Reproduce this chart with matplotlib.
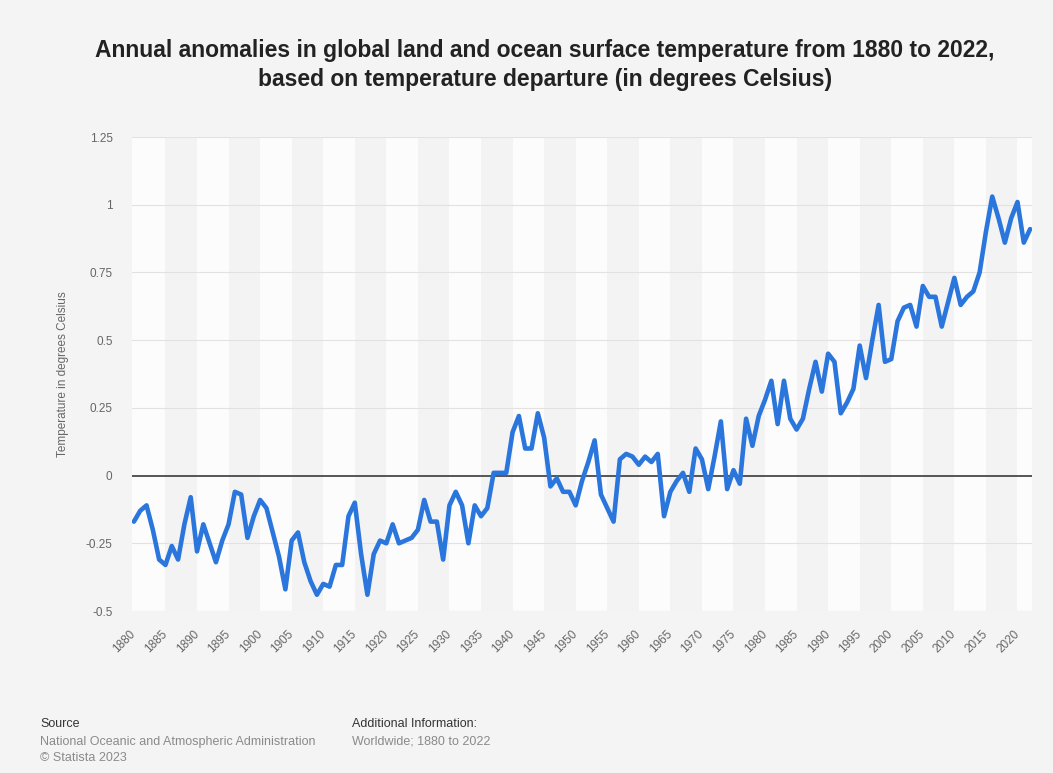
import matplotlib
matplotlib.use("Agg")
import matplotlib.pyplot as plt

years = list(range(1880, 2023))
anomalies = [
    -0.17, -0.13, -0.11, -0.20, -0.31, -0.33, -0.26, -0.31, -0.18, -0.08,   # 1880-1889
    -0.28, -0.18, -0.25, -0.32, -0.24, -0.18, -0.06, -0.07, -0.23, -0.15,   # 1890-1899
    -0.09, -0.12, -0.21, -0.30, -0.42, -0.24, -0.21, -0.32, -0.39, -0.44,   # 1900-1909
    -0.40, -0.41, -0.33, -0.33, -0.15, -0.10, -0.29, -0.44, -0.29, -0.24,   # 1910-1919
    -0.25, -0.18, -0.25, -0.24, -0.23, -0.20, -0.09, -0.17, -0.17, -0.31,   # 1920-1929
    -0.11, -0.06, -0.11, -0.25, -0.11, -0.15, -0.12, 0.01, 0.01, 0.01,      # 1930-1939
    0.16, 0.22, 0.10, 0.10, 0.23, 0.14, -0.04, -0.01, -0.06, -0.06,         # 1940-1949
    -0.11, -0.02, 0.05, 0.13, -0.07, -0.12, -0.17, 0.06, 0.08, 0.07,        # 1950-1959
    0.04, 0.07, 0.05, 0.08, -0.15, -0.06, -0.02, 0.01, -0.06, 0.10,         # 1960-1969
    0.06, -0.05, 0.07, 0.20, -0.05, 0.02, -0.03, 0.21, 0.11, 0.22,          # 1970-1979
    0.28, 0.35, 0.19, 0.35, 0.21, 0.17, 0.21, 0.32, 0.42, 0.31,             # 1980-1989
    0.45, 0.42, 0.23, 0.27, 0.32, 0.48, 0.36, 0.50, 0.63, 0.42,             # 1990-1999
    0.43, 0.57, 0.62, 0.63, 0.55, 0.70, 0.66, 0.66, 0.55, 0.64,             # 2000-2009
    0.73, 0.63, 0.66, 0.68, 0.75, 0.90, 1.03, 0.95, 0.86, 0.95,             # 2010-2019
    1.01, 0.86, 0.91,                                                       # 2020-2022
]
x_ticks = list(range(1880, 2021, 5))
y_ticks = [-0.5, -0.25, 0, 0.25, 0.5, 0.75, 1, 1.25]
y_tick_labels = ["-0.5", "-0.25", "0", "0.25", "0.5", "0.75", "1", "1.25"]

title = ("Annual anomalies in global land and ocean surface temperature from 1880 to 2022,\n"
         "based on temperature departure (in degrees Celsius)")
y_label = "Temperature in degrees Celsius"

plt.rcParams['font.family'] = ['Liberation Sans', 'DejaVu Sans']

W, H = 1053, 773
fig = plt.figure(figsize=(W / 100, H / 100), dpi=100, facecolor='#f4f4f4')
ax = fig.add_axes([132 / W, 1 - 611 / H, (1032 - 132) / W, (611 - 137) / H])
ax.set_facecolor('#fcfcfc')

# alternating bands
for start in range(1885, 2023, 10):
    ax.axvspan(start, start + 5, color='#f3f3f3', lw=0, zorder=0)

ax.set_xlim(1879.7, 2022.3)
ax.set_ylim(-0.5, 1.25)

for v in y_ticks:
    if v != 0:
        ax.axhline(v, color='#e2e2e2', lw=0.8, zorder=1)
ax.axhline(0, color='#555555', lw=1.4, zorder=2)

ax.plot(years, anomalies, color='#2a76dc', lw=3.3, solid_joinstyle='round',
        solid_capstyle='round', zorder=3)

for s in ax.spines.values():
    s.set_visible(False)

ax.set_yticks(y_ticks)
ax.set_yticklabels(y_tick_labels)
ax.set_xticks(x_ticks)
ax.set_xticklabels([str(t) for t in x_ticks], rotation=45, ha='right',
                   va='center', rotation_mode='anchor')
ax.tick_params(axis='both', length=0, labelcolor='#666666', labelsize=8.5)
ax.tick_params(axis='y', pad=14)
ax.tick_params(axis='x', pad=15)

ax.set_ylabel(y_label, color='#666666', fontsize=8.5, labelpad=12)

fig.text(545 / W, 1 - 65 / H, title, ha='center', va='center', fontsize=16.5,
         fontweight='bold', color='#222222', linespacing=1.35)

fig.text(40 / W, 1 - 724 / H, "Source", ha='left', va='center', fontsize=9,
         color='#333333')
fig.text(40 / W, 1 - 742 / H, "National Oceanic and Atmospheric Administration",
         ha='left', va='center', fontsize=9, color='#8a8a8a')
fig.text(40 / W, 1 - 758 / H, "\u00a9 Statista 2023", ha='left', va='center',
         fontsize=9, color='#8a8a8a')
fig.text(352 / W, 1 - 724 / H, "Additional Information:", ha='left',
         va='center', fontsize=9, color='#333333')
fig.text(352 / W, 1 - 742 / H, "Worldwide; 1880 to 2022", ha='left',
         va='center', fontsize=9, color='#8a8a8a')

fig.savefig('out.png', dpi=100, facecolor=fig.get_facecolor())
